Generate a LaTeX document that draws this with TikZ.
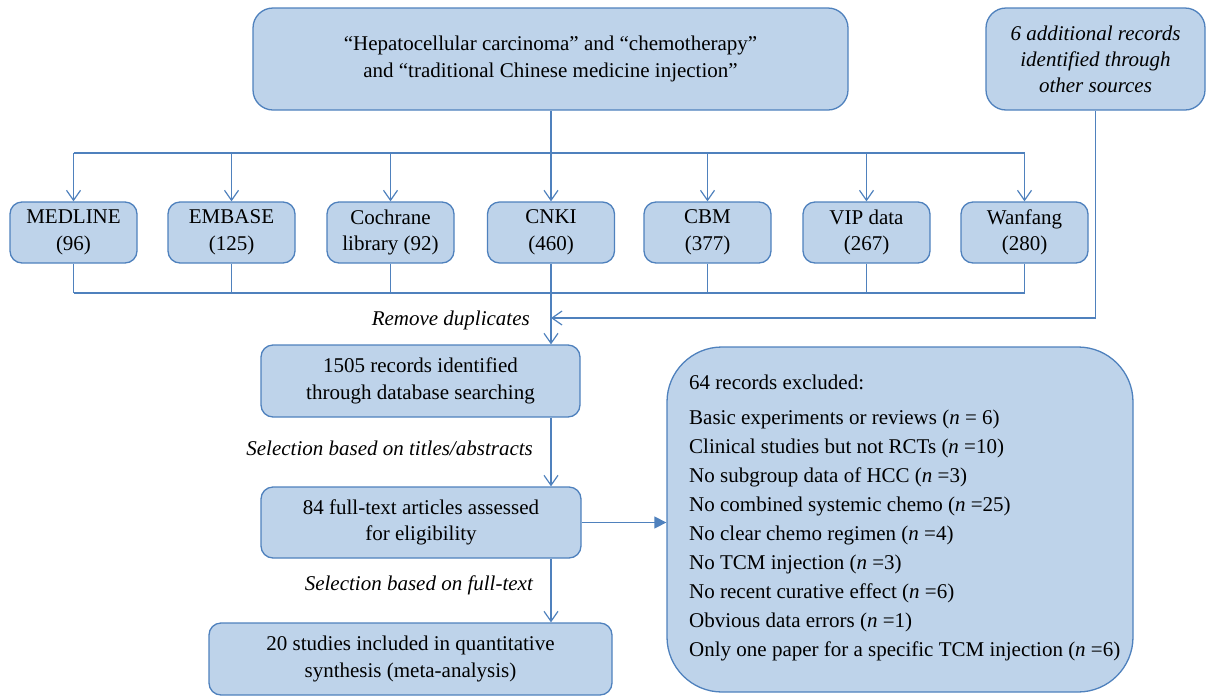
\documentclass[tikz,border=0pt]{standalone}
\usepackage{fontspec}
\setmainfont{Liberation Serif}
\usetikzlibrary{arrows.meta}
\definecolor{bfill}{RGB}{190,211,234}
\definecolor{bline}{RGB}{79,129,189}
\begin{document}
\begin{tikzpicture}[x=1pt,y=-1pt,
  box/.style={draw=bline, fill=bfill, line width=1.3pt, rounded corners=#1,
    align=center, inner sep=0pt, font=\fontsize{21}{26.5}\selectfont},
  dbbox/.style={box=12pt, minimum width=127pt, minimum height=61pt},
  conn/.style={draw=bline, line width=1.3pt},
  arr/.style={conn, -{Straight Barb[length=10pt,width=14pt,line width=1.2pt]}},
  farr/.style={conn, -{Triangle[length=12pt,width=12pt]}},
  lbl/.style={font=\fontsize{21}{24}\selectfont\itshape, inner sep=0pt}
]
\useasboundingbox (0,0) rectangle (1208,697);

\node[box=20pt, minimum width=595pt, minimum height=102pt] (top) at (550.5,59)
  {“Hepatocellular carcinoma” and “chemotherapy”\\and “traditional Chinese medicine injection”};
\node[box=20pt, minimum width=219pt, minimum height=102pt, font=\fontsize{21}{26}\selectfont\itshape] (other) at (1095.5,59)
  {6 additional records\\identified through\\other sources};

\node[dbbox] (db1) at (73.5,232.5) {MEDLINE\\(96)};
\node[dbbox] (db2) at (231.5,232.5) {EMBASE\\(125)};
\node[dbbox] (db3) at (390.5,232.5) {Cochrane\\library (92)};
\node[dbbox] (db4) at (551,232.5) {CNKI\\(460)};
\node[dbbox] (db5) at (707.5,232.5) {CBM\\(377)};
\node[dbbox] (db6) at (866.5,232.5) {VIP data\\(267)};
\node[dbbox] (db7) at (1024.5,232.5) {Wanfang\\(280)};

\node[box=12pt, minimum width=319pt, minimum height=72pt] (rec) at (420.5,381)
  {1505 records identified\\through database searching};
\node[box=12pt, minimum width=320pt, minimum height=71pt] (full) at (421,522.5)
  {84 full-text articles assessed\\for eligibility};
\node[box=12pt, minimum width=403pt, minimum height=72pt] (incl) at (410.5,659)
  {20 studies included in quantitative\\synthesis (meta-analysis)};
\node[box=55pt, minimum width=466pt, minimum height=345pt] (excl) at (900,519.5) {};
\node[anchor=north west, align=left, inner sep=0pt, font=\fontsize{21}{29}\selectfont] (excltxt) at (689,375)
  {64 records excluded:\\[5.5pt]
   Basic experiments or reviews (\textit{n} = 6)\\
   Clinical studies but not RCTs (\textit{n} =10)\\
   No subgroup data of HCC (\textit{n} =3)\\
   No combined systemic chemo (\textit{n} =25)\\
   No clear chemo regimen (\textit{n} =4)\\
   No TCM injection (\textit{n} =3)\\
   No recent curative effect (\textit{n} =6)\\
   Obvious data errors (\textit{n} =1)\\
   Only one paper for a specific TCM injection (\textit{n} =6)};

% top to databases
\coordinate (hub) at (551,153);
\draw[conn] (top.south -| hub) -- (hub);
\draw[conn] (db1.north |- hub) -- (db7.north |- hub);
\foreach \d in {db1,db2,db3,db4,db5,db6,db7}
  \draw[arr] (\d.north |- hub) -- (\d.north);

% databases to bus
\coordinate (bus) at (551,293);
\draw[conn] (db1.south |- bus) -- (db7.south |- bus);
\foreach \d in {db1,db2,db3,db5,db6,db7}
  \draw[conn] (\d.south) -- (\d.south |- bus);
\draw[arr] (db4.south) -- (db4.south |- rec.north);

% other sources
\coordinate (merge) at (551,318);
\draw[arr] (other.south) |- (merge);

\draw[arr] (rec.south -| hub) -- (full.north -| hub);
\draw[arr] (full.south -| hub) -- (incl.north -| hub);
\draw[farr] (full.east) -- (full.east -| excl.west);

\node[lbl, anchor=east] (l1) at (530,320) {Remove duplicates};
\node[lbl, anchor=east] (l2) at (533,448) {Selection based on titles/abstracts};
\node[lbl, anchor=east] (l3) at (533,585) {Selection based on full-text};
\end{tikzpicture}
\end{document}
